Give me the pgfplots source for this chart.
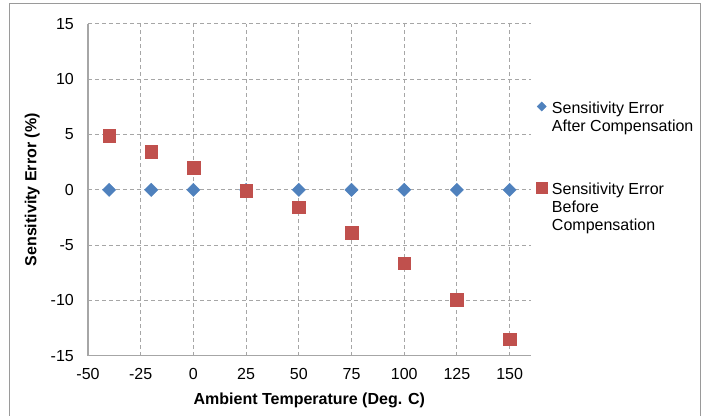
\documentclass[border=0pt]{standalone}
\usepackage{fontspec}
\setmainfont{Liberation Sans}
\usepackage{pgfplots}
\pgfplotsset{compat=1.18}
\definecolor{bl}{HTML}{4F81BD}
\definecolor{rd}{HTML}{C0504D}
\definecolor{gridc}{HTML}{A6A6A6}
\definecolor{framec}{HTML}{9A9A9A}
\begin{document}
\fontsize{16bp}{18bp}\selectfont
\begin{tikzpicture}
\begin{axis}[
  at={(0,0)}, anchor=south west,
  scale only axis, width=442.7bp, height=331.7bp,
  xmin=-50, xmax=160, ymin=-15, ymax=15,
  xtick={-50,-25,0,25,50,75,100,125,150},
  ytick={-15,-10,-5,0,5,10,15},
  axis x line*=bottom, axis y line*=left,
  axis line style={draw=gridc, line width=1.3bp, -},
  grid=major,
  grid style={draw=gridc, line width=1bp, dash pattern=on 4bp off 3bp},
  major tick length=0pt,
  /pgf/number format/assume math mode=true,
  tick label style={font=\fontsize{16bp}{18bp}\selectfont, inner sep=0pt},
  yticklabel style={anchor=east, xshift=-14bp},
  xticklabel style={anchor=north, yshift=-12.3bp},
  xlabel={\textbf{Ambient Temperature (Deg. C)}},
  ylabel={\textbf{Sensitivity Error (\%)}},
  x label style={at={(axis description cs:0.5,0)}, anchor=north, yshift=-37.3bp, inner sep=0pt, font=\fontsize{16bp}{18bp}\selectfont},
  y label style={at={(axis description cs:-0.1084,0.5)}, anchor=south, inner sep=0pt, font=\fontsize{16bp}{18bp}\selectfont},
  legend cell align=left,
  legend style={at={(axis description cs:1,1)}, anchor=north west, xshift=5.7bp, yshift=-76bp,
    draw=none, fill=none, font=\fontsize{16bp}{18bp}\selectfont,
    cells={align=left}, row sep=44.5bp, column sep=3bp, inner sep=0pt, outer sep=0pt},
  legend image code/.code={\draw[#1] plot coordinates {(0bp,0bp)};},
]
\addplot[only marks, mark=square*, mark size=4.7bp, mark options={rotate=45, fill=bl, draw=bl}, forget plot]
  coordinates {(-40,0) (-20,0) (0,0) (25,0) (50,0) (75,0) (100,0) (125,0) (150,0)};
\addplot[only marks, mark=square*, mark size=6.3bp, mark options={fill=rd, draw=rd}, forget plot]
  coordinates {(-40,4.9) (-20,3.45) (0,2.03) (25,-0.05) (50,-1.58) (75,-3.85) (100,-6.65) (125,-9.93) (150,-13.52)};
\addlegendimage{only marks, mark=square*, mark size=3.2bp, yshift=11.5bp, mark options={rotate=45, fill=bl, draw=bl}}
\addlegendentry{Sensitivity Error\\After Compensation}
\addlegendimage{only marks, mark=square*, mark size=5.3bp, yshift=19.5bp, mark options={fill=rd, draw=rd}}
\addlegendentry{Sensitivity Error\\Before\\Compensation}
\end{axis}
\draw[framec, line width=1bp] (-78bp,-64bp) -- (-78bp,351.7bp) -- (612.3bp,351.7bp) -- (612.3bp,-64bp);
\pgfresetboundingbox
\useasboundingbox (-88bp,-60.3bp) rectangle (617bp,355.7bp);
\end{tikzpicture}
\end{document}
